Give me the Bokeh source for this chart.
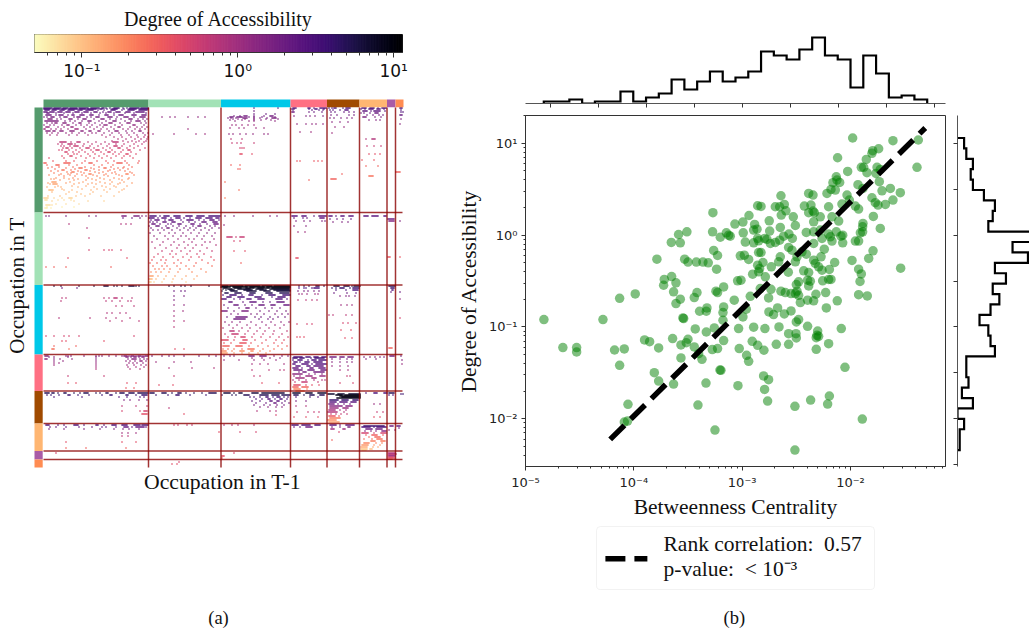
import numpy as np
from bokeh.plotting import figure
from bokeh.embed import file_html
from bokeh.resources import INLINE
from bokeh.layouts import row, column
from bokeh.models import (Range1d, LogColorMapper, FixedTicker, Label, ColumnDataSource,
                          BoxAnnotation)
from bokeh.palettes import Magma256

SERIF = "Liberation Serif"
SANS = "DejaVu Sans"

# ---------------- data: colour scale
cb_low, cb_high = 0.0497, 11.4
cb_ticks = [0.1, 1.0, 10.0]
cb_tick_labels = ["10⁻¹", "10⁰", "10¹"]
cb_minor = [0.06, 0.07, 0.08, 0.09, 0.2, 0.3, 0.4, 0.5, 0.6, 0.7, 0.8, 0.9,
            2.0, 3.0, 4.0, 5.0, 6.0, 7.0, 8.0, 9.0]

# ---------------- data: occupation groups
group_edges = [0, 105, 177.5, 247, 283.5, 316, 343.5, 352, 360]
group_colors = ["#559b6d", "#a2e2b6", "#00c8e8", "#ff7083", "#a04a00", "#ffb672", "#a95ba6", "#ff8c52"]
line_positions = [105, 177.5, 247, 283.5, 316, 343.5, 352]

# ---------------- data: transition matrix (row, value, columns)
heat_rows = [
 # --- band 1, own group
 (0,3.6,"0-8 10-17 19-24 26-33 35-44 47-55 58-60 62 66 70-75 79 83 86-95 97-104"),
 (1,3.2,"0-6 9-15 18-22 25-33 36-41 44-52 56-58 63 68-73 80 85-92 96-104"),
 (2,2.8,"1-5 8-12 16-20 24-30 34-38 42-49 54 60 67-71 78 84-90 95-103"),
 (4,2.2,"0-3 6-10 14-18 22-26 31-35 40-44 50-53 59 64-67 72-76 82-86 92-100"),
 (5,2.1,"3-5 12 20 29 38 47 56 62 70 81 90 102"),
 (7,1.9,"2-7 12 15-19 24 28-30 36-40 46-49 55 61-64 70 75-79 88-92 98-102"),
 (9,1.7,"0 3 7-10 16 20-23 30 33-36 43 47 52-55 64-68 73 80-84 90 96-101"),
 (11,1.5,"4-8 13 17 25-28 34 39-42 50 57-60 66 72 77 85-88 94 99 103"),
 (13,1.5,"1-14 21 26 31 38 44-47 55 62 69-72 81 87 92-96 101"),
 (15,1.3,"3 8 11-13 19-22 29 35-37 45 51 58 65-68 76 83-86 97 102"),
 (17,1.2,"0 6 10 18 23-25 32 37 43 48 56 60-63 71 78 89-91 100"),
 (19,1.1,"2-5 14 20 27-29 40 46 53 59 67 74-76 86 93 98 103"),
 (21,1.0,"0-1 7 12 17 24 31-34 42 50 57 63 70 79 84 91 96 101"),
 (23,1.3,"2-6 9-11 16-19 26-30 37-39 45-47 54-56 65 71-74 82 88 95-97"),
 (25,1.1,"3 8 14 22 28 35 41 48 52 60 68 75 83 90 99 104"),
 (27,0.9,"6 13 25 33 44 58 66 77 85 93 101"),
 (29,0.8,"62 70 78 87 94 100 104"),
 (31,0.8,"74 82 91 97 103"),
 (33,0.75,"68 79 88 95 102"),
 (34,0.7,"16-22 27 33-36 44 52 61 69-74 84 92 100"),
 (36,0.65,"14 18 24-28 31 40 48 57 65 72 80 90 98"),
 (38,0.6,"17 20 26 30-34 39 46 54 63 70-73 78 86 94"),
 (40,0.55,"19 22-24 28 36 42-45 50 59 66 74-76 83 90 101"),
 (42,0.5,"15 18 25 32 38 47 52-55 62 68 79 84-86 96"),
 (44,0.5,"21-23 29 35 41 49 57 64-66 71 77 87"),
 (46,0.45,"24 30 33 44 51 60 69 75 82-84 92"),
 (48,0.45,"18 26-28 37 46 55 63 72 80 86"),
 (50,0.42,"5 20 32 42 50 58 67 78 89"),
 (53,0.35,"9 22 30 41 53 62 70 81 95"),
 (55,0.3,"0-2 20-26 38 45-48 64 73-78 83 94"),
 (57,0.28,"3 12-15 25 33 50 58 69 85"),
 (59,0.27,"8 15 29 41 55 67 80 88"),
 (60,0.25,"4 22 35-38 47 60-62 74 79"),
 (61,0.25,"11 31 50 70 84"),
 (62,0.24,"18-20 27 41-43 55 66 76"),
 (63,0.23,"7 14 34 46 64 81"),
 (64,0.22,"23 28-30 37 51 59 71 86"),
 (65,0.22,"10 27 40 55 68 88"),
 (66,0.2,"17 24 33 45-47 62 72 82-84"),
 (67,0.2,"5 15 26 38 49 60 75 90"),
 (68,0.2,"20 31 42 53 64 78"),
 (70,0.18,"12 20 29 44 56 70 85"),
 (71,0.16,"7 10 25 34 48 60 75 84"),
 (72,0.17,"16 30 42 52 66 78"),
 (74,0.14,"8-12 26 39 56 68 80"),
 (75,0.15,"4 22 35 48 61 76 88"),
 (76,0.14,"6 9-13 30 44 52 66 74"),
 (78,0.13,"14 28 42 58 70 83"),
 (79,0.12,"3 11 17 34 50 62 72"),
 (81,0.12,"18 38 53 66 80"),
 (82,0.11,"5-9 20 28 47 60 78"),
 (84,0.11,"8 25 33 49 63 75"),
 (86,0.1,"22 37 46"),
 (88,0.1,"4 16 32 41 57 70"),
 (90,0.08,"0-4 10 18 25-28"),
 (92,0.07,"1-3 14 20 27"),
 (93,0.08,"8 30 44 60"),
 (96,0.07,"12 22 35"),
 (97,0.07,"2-6 8"),
 (99,0.06,"3 18 30"),
 (100,0.06,"1-3 7"),
 # --- band 1, other groups
 (9,1.2,"118 126 131 144 154 161"),
 (21,1.0,"144"),
 (26,1.0,"109 130 152 161"),
 (0,2.5,"210 234"),(3,2,"210"),(6,2,"210 222 231"),
 (8,1.8,"190 196 200-203 210 220 226-229"),
 (9,1.8,"186-189 193-198 205 210 218 231"),
 (10,1.6,"184 187 192 199-203 210 216 223 228-232"),
 (11,1.5,"189 194 201 210 222 234"),
 (12,1.3,"186 198 210 217 227"),(13,1.2,"191 205 210 231"),
 (17,1,"188 192 198 204 210"),(20,1,"186 195 200 212 220"),
 (26,1.2,"185 189 196 202 209 220 224"),
 (31,0.7,"187 198"),(35,0.6,"188 193 197 210"),(40,0.5,"196 198 200"),(46,0.4,"196-198 208"),
 (57,0.3,"187 196"),(61,0.3,"194 196"),(74,0.25,"181"),(82,0.25,"195"),(90,0.2,"181"),
 (0,3,"249-252 264-266 270 276-282"),(1,3,"248 250 265 271-273 280"),
 (2,2.5,"249 268 275 279"),(4,2,"248-250 265 270 278"),(8,1.5,"250 262 266 271 279"),
 (16,1.2,"253 262 268 272 279"),(24,1,"256 267"),(53,0.35,"253 256 270 274 278"),(72,0.3,"265"),
 (0,3,"285 288 290-292 299 302-306"),(2,2.6,"286 289 296 301-304"),(4,2.2,"287 291 300 305 310"),
 (7,1.8,"287 293 305 310"),(10,1.5,"286 290 297 303 308"),(14,1.3,"288 296 304"),(19,1.1,"291 300"),
 (25,1,"288"),(66,0.3,"298"),(71,0.3,"287-292"),
 (0,3,"318-322 326-330 334 338-342"),(1,2.8,"317 321 325-329 333-336 340"),
 (3,2.4,"319-323 327 330-336 341"),(5,2,"317 320 326 331-334"),(7,1.8,"323 329 335 339"),
 (9,1.6,"319-322 331 337"),(12,1.4,"325 332 336"),(31,0.8,"322 328-331"),(38,0.6,"323 330 337"),
 (46,0.4,"325 331 336"),(52,0.35,"318 330"),(58,0.3,"322 334"),(68,0.25,"325-329"),
 (64,0.3,"352-356"),
 (0,3.5,"356-358"),(2,3,"357"),(4,2.8,"357 359"),(7,2.2,"356-358"),(11,1.6,"357"),(16,1.3,"356"),
 # --- band 2
 (108,1.5,"2 5 22 45 52 78-82 90-95 98 102"),(110,2,"79 88 96"),(116,0.8,"25 77 82 87"),
 (120,0.8,"43"),(130,0.6,"45"),(142,0.5,"45 60 65 68 77"),(150,0.4,"24 83"),(159,0.3,"2 10 22 67"),
 (108,3,"106-112 116 120-125 130-136 142-148 153-160 165-176"),
 (110,2.6,"105-110 114 118-122 127 132-136 140 146 152-157 162-168 172-175"),
 (112,2.4,"107 111-115 121 125-129 137 143-149 155 160 166-170 175"),
 (114,2.2,"106 109 113 119-122 128-131 139 145 151 158-162 169-173"),
 (116,2,"108-111 116 124 127 134-137 147-150 156 163 170-174"),
 (118,1.9,"105 112-115 122 129 135 142 149 154-157 166 171"),
 (120,1.7,"107 118 123-125 133 140 146 152 161 168 175"),
 (122,1.5,"109 114 120 128 136 144 150 157 165"),
 (125,1.3,"106 116 125 131 139 147 155 163 171"),
 (128,1.2,"110 121 129 137 142 153 160 168"),
 (131,1.0,"113 124 134 145 150 158 170"),
 (134,0.9,"108 119 130 140 148 161 166"),
 (137,0.8,"116 127 135 144 152 158 172"),
 (140,0.7,"111 122 133 141 149 163"),
 (143,0.6,"118 128 137 146 156 168"),
 (146,0.5,"114 126 132 143 153 160"),
 (149,0.42,"110 119 129 139 147 155 167"),
 (152,0.36,"108 117 122 134 145 158 170"),
 (155,0.3,"106 113 121 130 137 152 164"),
 (158,0.26,"109 118 123 133 142 150 168"),
 (161,0.22,"111 115 120 126 136 145 157"),
 (164,0.18,"107 112 117 125 134 148 162"),
 (168,0.14,"106-109 114 122 131 142 153"),
 (171,0.11,"105-108 112 120 129 138 150"),
 (174,0.08,"105-107 110 118 128 142"),
 (108,1.5,"181 190 209 226 233"),(117,1.2,"180"),(129,0.6,"183-188 192 196-200"),(133,0.5,"190 196"),(155,0.3,"197"),
 (143,0.4,"190 201"),(108,2.5,"248-253 258-262 270 275-282"),(110,2.2,"250 259 263 276-280"),
 (113,1.5,"252 260 266 278 281"),(118,1.3,"250 262"),(124,1,"254 261"),(150,0.4,"252-254"),
 (108,2.5,"285-288 292 297-300 305-309"),(111,2,"286 293 299 307"),(114,1.5,"289 298 304"),
 (108,2.5,"320-324 328-334 340-342"),(111,2,"344-350"),(113,1.5,"345-350 356"),(149,0.35,"344-346 356"),
 # --- band 3
 (178,6,"10 17 35 50 60-64 70 73 78 85-90 92 95"),(180,2,"18 33"),
 (190,0.7,"18 22 60 65 70-73 78 88"),(193,0.7,"17 62 68 76 84 87"),(198,0.7,"72 78 90"),
 (205,0.8,"63 68 76 82"),(210,0.8,"15 46 62 72 86"),(213,0.7,"66 78 95"),(228,0.5,"2 10 20 25 35 90"),
 (233,0.4,"18 22 60"),(238,0.3,"10 32"),(241,0.25,"8-10 25"),
 (178,6,"125 130 137 141 147 165"),(183,2,"130 137 141"),(188,1.6,"130 140"),(192,1.5,"130"),
 (197,1.2,"130 140"),(203,1,"130 139"),(208,0.9,"130"),(213,0.8,"130 140"),(219,0.7,"130"),(241,0.4,"131 140"),
 (178,10,"178-184 186-199 201-216 218-228 230-246"),
 (179,10,"177-186 189-203 206-220 223-246"),
 (180,9,"180-183 190-197 202-210 214-225 228-246"),
 (181,8,"179 184-188 194-206 212-219 226-245"),
 (182,7,"182 186-190 200-208 216-222 230-246"),
 (183,6,"178 187-193 203-212 220-226 233-246"),
 (185,5,"181-184 191-197 206-211 222-228 236-245"),
 (187,3.5,"179 186-192 198 205-209 218 225-231 239-246"),
 (189,3,"183-187 194-200 211-217 228 234-241"),
 (191,2.6,"178-182 190 196 203-207 214-220 232-238 243"),
 (194,2.2,"185-188 199 206-212 219 226 233-240"),
 (197,2,"180 190-194 201 208 215-220 227-231 240-245"),
 (200,1.8,"184 195 202-205 212 221 228 236"),
 (203,1.6,"178-183 190 198-204 216 225 233 242"),
 (206,1.5,"187 194 207 213 220 231 238 244"),
 (209,1.9,"183 192-203 211 217 226 234 241"),
 (211,1.9,"190-201 215 224 229"),
 (214,1.2,"181 188 196 207 218 227 237 245"),
 (217,1.0,"185 193 203 212 222 231 240"),
 (220,0.8,"179 189 198 206 216 225 236"),
 (223,0.7,"186-190 195 204 213 221 230 243"),
 (226,0.6,"181 188-194 201 210 219 229 238"),
 (229,0.5,"184 191 197-201 208 217 226 235 244"),
 (232,0.42,"178-184 190 199-203 211 222 232 240"),
 (235,0.36,"180 187 196-202 207 218 230 238"),
 (238,0.3,"179-185 192-198 205 214 224 234 243"),
 (241,0.24,"179 184 190 198 204-210 219 230 238"),
 (243,0.18,"178-182 188 196-200 207-209 216 226"),
 (245,0.14,"178-183 190 198 205 214 222"),
 (178,5,"255 260 265 272-275 280"),(180,3,"255 260 262 268 270-275"),(183,1.6,"254 260 264 270 275"),
 (186,1,"255 258 263 271 274"),(192,0.7,"254 262 268 273"),(216,0.5,"253 263 268"),(229,0.4,"253 256 260"),
 (178,6,"290-295 300-305 308 310-316"),(180,4,"288 292 296-300 306 309-315"),(182,3,"292 302 309-314"),
 (185,2,"290 303 312"),(188,1.4,"296 302 305 311"),(197,1,"297 303 308"),(207,0.7,"285 289 302 308"),
 (215,0.5,"299 304 312"),(222,0.4,"297 307"),(230,0.4,"301 308"),
 (178,5,"345-351"),(180,4,"347-350"),(182,3,"348-349"),(184,2,"347 356"),(191,1.2,"356"),(210,0.5,"356"),(240,0.3,"345-348"),
 # --- band 4
 (248,1.5,"1-4 22 24 27 40 52 55 58 65 72 78 80-83 85 87-90 92 94-97 99 101-104"),
 (249,1.4,"5 10 24 52 82-84 87 90-92 95 98-100"),
 (251,1.3,"1-3 10 16 28 52 84 88-92 96 100 103"),(253,1.2,"10 19 52 82 86 91 96-98 102"),
 (255,1.1,"10 15 52 85 89 93 99"),(257,1,"10 52 83 90 97 102"),(259,0.9,"52 84 92 100"),
 (261,0.8,"52 86 96"),(268,0.6,"24 60"),(275,0.4,"24 32 83 92"),(280,0.35,"82 90"),
 (248,1.8,"108 118 125 130 140 155 165 172"),(254,1,"112 130 147"),(260,0.8,"125 148 170"),(268,0.6,"130"),(277,0.4,"115 129"),
 (248,1.6,"180 186 190 205-210 216-222 230 238 244"),(250,1.2,"208 218 226 236"),(252,1.1,"180 195 210 220 232"),
 (256,0.9,"208 216 224 240"),(262,0.7,"208 225 236 240"),(268,0.6,"210 216"),(275,0.4,"218 235"),
 (249,3,"250-258 262-266 270-274 278-282"),(250,3.4,"249-253 256-260 267 271-280"),
 (252,3,"249 254-258 264 268-272 275-282"),(254,2.8,"250-253 256 261-265 270-278"),
 (256,2.6,"249-251 258-264 268 272-282"),(258,2.4,"252-256 263-266 270-279"),
 (260,2.2,"249-254 258 266-269 275-281"),(262,2,"250-258 264-270 277-282"),
 (264,1.8,"255 259-262 270-280"),(266,1.3,"249-258 265 271 278"),(268,1.1,"250 256 262-268 276-281"),
 (270,1,"252-260 268-272"),(272,0.8,"249 255 262 270 278 281"),(274,0.6,"251 258-263 274"),
 (277,0.4,"250-256 262 268 275"),(279,0.3,"249-254 258-264"),(281,0.2,"250-256 263"),(283,0.16,"252-260"),
 (249,1.8,"286-292 296-300 304-309"),(251,1.5,"288 296 303 308"),(254,1.3,"288 296 303 308"),(258,1.1,"288 296 304"),
 (262,0.9,"296 304"),(268,0.6,"303 306"),(275,0.5,"296 309"),
 (249,1.6,"320 326 331 336 340"),(251,1.2,"322 332"),(248,1.8,"346-350 357"),(252,1.4,"358"),(256,1.1,"358"),
 # --- band 5
 (285,5,"1-5 8-10 14 20-22 30 36 40-44 52 56 62-64 72 76-80 85-90 94-104"),
 (287,4,"3 7 15 24-26 34 45 58 66-68 82-84 92 98-103"),
 (289,3,"10 38 75 83 96 100"),(292,1.5,"80 86 95 103"),(298,0.7,"78 92 103"),(303,0.5,"78 96 100-103"),(306,0.4,"98-103"),
 (285,5,"106-110 118-122 128 134-137 142 150 158 165-172"),(287,4,"112 124 132-135 146 162"),(300,0.7,"125"),(306,0.4,"140"),
 (285,6,"180-186 190 195-198 208-214 218-240"),(287,5,"178 188 192 200-205 216-224 228-235 238-246"),
 (289,3.4,"206 210 216 222-224 229 233-236 240 244"),(291,2.8,"212 218 224-226 231 236-238 243"),(293,2.4,"208 216 226-228 233-235 241"),
 (295,2,"212 222 230-232 238 245"),(297,1.7,"210 220 226 233 240"),(299,1.3,"216 224 232 238"),(303,0.8,"213 226 232"),(307,0.5,"232"),
 (285,7,"249-256 262-268 274-282"),(287,5,"250-254 260 266-270 276-280"),(289,3,"252 266 274"),(293,1.6,"252 262"),
 (298,0.8,"252 262"),(304,0.6,"253 264 270 275"),(309,0.4,"250 262 274"),
 (286,7,"284-290 294-300 305-316"),(287,9,"292-298 301-316"),(288,10,"296-316"),(289,10,"298-316"),(290,9,"293-316"),
 (292,4,"286-294 298-304 309-314"),(294,2.6,"286-292 296-303 307-312"),(296,1.8,"285-290 294 300 306"),
 (298,1.4,"286-298 302-308"),(300,1.1,"286-294 299-304"),(302,0.9,"285-291 296 302"),(304,0.8,"284-293 300"),
 (306,0.6,"287 292 297 303"),(308,0.35,"285-291 295"),(310,0.22,"286-296"),(312,0.18,"284-292"),(314,0.14,"285-295"),
 (285,3,"322 330-333 340-343"),(296,1.1,"330 336"),(304,0.6,"333 339"),(309,0.4,"330 336"),
 (285,5,"345-350"),(287,3,"345 349"),(286,4,"357 359"),
 # --- band 6
 (317,3,"2-5 14 20 30-34 40 52-54 60 68-72 78-83 90-96 98-104"),
 (319,2.2,"6 12 22 35 48 58 62 72 80-84 88 92-100 102"),
 (321,1.6,"5 20 40 56 70 79 85 95"),(325,1,"78 84 92"),(328,0.7,"78 84"),(334,0.4,"22 78 92"),(340,0.3,"22 42 82"),
 (317,0.6,"130 134 143 148"),(324,0.4,"175"),(317,0.8,"180 188 194 210"),(324,0.5,"196 212"),
 (317,3,"248-254 258-266 271-276"),(319,2,"250 256 262-268"),
 (317,2.5,"286-292 296 302-310"),(319,1.7,"288 296 304-306"),(321,1,"287-290 299-301"),(324,0.5,"295"),(332,0.3,"288"),
 (318,4,"320-340"),(319,3,"318-326 330 333-342"),(321,2,"322-328 332-338"),(323,1.4,"321 327 332 338-342"),
 (325,0.5,"318-324 330 337-342"),(327,0.32,"322 328-333 339"),(329,0.28,"325 331-336"),(331,0.26,"320 328 333-338"),
 (333,0.22,"327-331 337-341"),(335,0.2,"320-325 332 338"),(337,0.16,"318-324 330 336"),(339,0.13,"317-323 329 334"),
 (341,0.1,"317-323 326-328"),(342,0.08,"318-322"),
 (318,2,"346-349"),(322,1.2,"345 351"),(318,2.4,"353-356"),(320,1.6,"355"),
 # --- bands 7 and 8
 (345,0.7,"344-351"),(346,0.9,"345-352"),(347,0.6,"344-350"),(348,1.2,"345-351"),(349,0.5,"344-349"),
 (350,0.4,"345-351"),(351,0.3,"344-348"),(345,0.5,"12 190"),(348,0.4,"178-180"),(350,0.3,"178"),
 (354,0.5,"135"),(356,0.4,"128 133"),
]

# ---------------- data: histogram counts and ticks
top_counts = [1,1,2,0,1,1,6,1,3,5,12,7,11,16,11,13,16,26,24,22,27,33,24,22,8,24,15,3,4,2]
top_ticks = [-4.77,-4.337,-3.904,-3.470,-3.037,-2.604,-2.171,-1.738,-1.304]
right_counts = [3,4,7,6,7,12,17,16,14,36,25,32,17,22,16,19,15,10,14,15,17,4,4,5,2,7,0,3,1,1]
right_ticks = [1.0,0.5,0.0,-0.5,-1.0,-1.5,-2.0,-2.5]

# ---------------- data: scatter (log10 of each value)
log_bc = [
-3.270,-3.587,-3.510,-3.273,-3.654,-3.571,-3.202,-3.146,-3.125,-3.263,-3.227,-3.787,-3.531,-3.500,-3.423,-3.362,
-3.313,-3.236,-3.651,-3.719,-3.611,
-4.830,-4.285,-4.655,-4.528,-4.528,-4.178,-4.088,-4.131,-3.987,-4.131,-3.901,-3.854,-3.771,-3.811,-3.771,-4.054,
-4.088,-4.058,-3.633,-3.642,-3.565,-3.516,-3.500,-3.442,-3.565,-3.402,-3.371,-3.276,-3.227,-3.205,-3.334,-3.408,
-3.251,-3.433,-3.331,-3.257,-3.171,-3.725,-3.633,-3.571,-3.611,-3.417,-3.442,-3.242,-3.227,-3.393,-3.325,-3.331,
-3.171,-3.177,-3.547,-3.540,-3.171,
-1.980,-1.608,-1.374,-1.740,-1.795,-1.802,-2.119,-1.854,-1.386,-2.026,-1.900,-1.878,-1.848,-1.755,-1.725,-1.765,
-2.131,-2.125,-2.162,-2.100,-1.734,-1.931,-2.180,-2.140,-2.217,-2.386,-2.346,-1.632,-1.709,-1.540,-1.885,-2.032,
-2.642,-1.802,-2.079,-2.011,-1.771,-1.746,-1.678,-1.608,-2.857,-2.826,-2.694,-2.654,-2.611,-2.596,-2.639,-2.426,
-2.365,-2.346,-2.386,-2.334,-2.202,-1.955,-1.925,-2.279,-2.937,-2.528,-2.171,-1.789,-2.750,-2.993,-3.067,-2.885,
-2.509,-2.340,-2.109,-1.885,-1.888,-2.648,-1.888,-1.725,-2.894,-2.863,-2.990,-2.746,-3.110,-2.408,-2.340,-2.279,
-2.131,-2.202,-2.072,-2.088,-1.909,-2.617,-2.568,-2.537,-2.971,-2.894,-2.857,-2.793,-2.771,-2.740,-2.694,-2.654,
-2.848,-2.571,-2.540,-2.340,-2.263,-2.186,-2.171,-2.072,-1.955,-1.925,-2.242,-1.792,-3.017,-2.980,-2.940,-2.848,
-2.826,-2.272,-2.340,-2.408,-2.448,-2.494,-2.648,-2.663,-2.808,-2.509,-1.986,-1.832,-2.146,-2.325,-2.294,-2.263,
-2.857,-2.839,-2.848,-2.731,-2.903,-2.786,-2.574,-1.925,-1.900,-1.537,-2.195,-2.432,-2.386,-2.202,-2.180,-2.257,
-2.396,-2.371,-2.479,-2.500,-3.042,-3.011,-1.912,-2.833,
-2.734,-2.642,-2.602,-2.549,-2.494,-2.479,-2.509,-2.386,-2.319,-2.229,-1.925,-1.845,-2.925,-3.073,-2.756,-2.463,
-2.396,-2.340,-2.122,-2.962,-2.993,-3.177,-2.753,-2.710,-2.673,-2.611,-2.549,-2.479,-2.500,-2.223,-3.033,-2.894,
-2.790,-2.660,-2.396,-2.303,-2.085,-2.571,-2.503,-2.500,-2.309,-2.294,-2.316,-2.907,-2.857,-2.799,-2.685,-2.571,
-2.202,-2.316,-3.027,-2.959,-2.940,-2.051,-3.196,-2.802,-2.756,-3.039,-2.793,-2.195,-2.211,-2.368,-2.765,-2.513,
-1.891,-2.513]
log_da = [
0.244,0.007,0.036,0.036,-0.080,-0.084,-0.022,0.025,0.000,-0.167,-0.222,-0.262,-0.262,-0.294,-0.294,-0.294,
-0.302,-0.371,-0.451,-0.483,-0.520,
-0.920,-0.920,-1.225,-1.225,-1.273,-1.251,-1.240,-0.688,-0.640,-1.418,-1.142,-1.160,-1.229,-1.498,-1.589,-1.843,
-2.036,-2.025,-1.622,-1.127,-1.196,-1.171,-1.134,-1.218,-1.338,-1.291,-1.353,-1.247,-1.236,-1.469,-1.611,-1.851,
-2.123,-1.022,-1.055,-1.011,-1.149,-0.546,-0.618,-0.698,-0.746,-0.626,-0.680,-0.611,-0.626,-0.829,-0.793,-0.829,
-0.782,-0.844,-0.902,-0.909,-0.564,
1.058,1.029,1.036,0.941,0.920,0.891,0.843,0.825,0.738,0.694,0.738,0.738,0.680,0.738,0.716,0.672,
0.636,0.600,0.571,0.574,0.582,0.549,0.498,0.491,0.454,0.454,0.436,0.509,0.483,0.462,0.509,0.436,
0.429,0.407,0.338,0.382,0.353,0.327,0.334,0.382,0.320,0.313,0.309,0.309,0.334,0.265,0.218,0.316,
0.327,0.262,0.244,0.244,0.309,0.316,0.284,0.200,0.214,0.200,0.200,0.204,0.156,0.142,0.120,0.116,
0.105,0.145,0.153,0.127,0.091,0.084,0.036,0.073,0.055,0.065,0.025,0.044,-0.011,0.029,0.036,0.055,
0.036,0.011,0.000,-0.011,0.025,-0.011,0.011,-0.036,-0.076,-0.084,-0.036,-0.036,-0.047,-0.091,-0.080,-0.055,
-0.062,-0.134,-0.164,-0.091,-0.036,-0.018,-0.065,-0.084,-0.065,-0.065,-0.153,-0.171,-0.225,-0.218,-0.265,-0.189,
-0.189,-0.236,-0.273,-0.207,-0.182,-0.236,-0.236,-0.291,-0.298,-0.291,-0.276,-0.254,-0.298,-0.309,-0.345,-0.382,
-0.327,-0.364,-0.400,-0.345,-0.425,-0.454,-0.404,-0.371,-0.422,-0.360,-0.374,-0.389,-0.407,-0.483,-0.483,-0.498,
-0.491,-0.502,-0.509,-0.538,-0.498,-0.491,-0.505,-0.582,
-0.590,-0.611,-0.626,-0.637,-0.611,-0.655,-0.637,-0.553,-0.644,-0.626,-0.648,-0.662,-0.666,-0.709,-0.684,-0.735,
-0.709,-0.716,-0.716,-0.807,-0.891,-0.927,-0.836,-0.865,-0.793,-0.858,-0.825,-0.920,-0.945,-0.793,-1.018,-1.003,
-1.018,-1.000,-0.993,-1.044,-1.018,-1.073,-1.073,-1.120,-1.091,-1.102,-1.117,-1.156,-1.200,-1.254,-1.189,-1.189,
-1.182,-1.244,-1.236,-1.309,-1.375,-1.440,-1.473,-1.534,-1.574,-1.640,-1.680,-1.752,-1.840,-1.796,-1.807,-1.865,
-2.003,-2.341]
fit_x = [6.05e-5, 4.9e-2]
fit_y = [5.96e-3, 14.7]

x_ticks = [1e-5, 1e-4, 1e-3, 1e-2]
x_tick_labels = ["10⁻⁵", "10⁻⁴", "10⁻³", "10⁻²"]
y_ticks = [1e-2, 1e-1, 1.0, 10.0]
y_tick_labels = ["10⁻²", "10⁻¹", "10⁰", "10¹"]
multipliers = [2, 3, 4, 5, 6, 7, 8, 9]
x_minor = [m * d for d in [1e-5, 1e-4, 1e-3, 1e-2] for m in multipliers]
y_minor = [m * d for d in [1e-3, 1e-2, 1e-1, 1.0, 10.0] for m in multipliers]

legend_lines = ["Rank correlation:\u00a0\u00a00.57", "p-value:\u00a0\u00a0< 10⁻³"]

# ---------------- helpers
def blank(fig):
    fig.grid.visible = False
    fig.outline_line_color = None
    fig.background_fill_color = None
    fig.border_fill_color = None

def note(fig, text, x, y, size, angle=0.0):
    fig.add_layout(Label(x=x, y=y, text=text, angle=angle, text_font=SERIF, text_font_size=size,
                         text_color="#111111", text_align="center", text_baseline="middle"))

def expand(spec):
    out = []
    for tok in spec.split():
        if "-" in tok:
            a, b = tok.split("-")
            out.extend(range(int(a), int(b) + 1))
        else:
            out.append(int(tok))
    return out

# ---------------- colour bar
palette = list(Magma256)[::-1]
cb = figure(width=440, height=98, x_axis_type="log", x_range=Range1d(cb_low, cb_high), y_range=Range1d(0, 1),
            output_backend="svg", toolbar_location=None, min_border_left=34, min_border_right=38,
            min_border_top=32, min_border_bottom=46, title="Degree of Accessibility", frame_align=False)
blank(cb)
cb.title.align = "center"
cb.title.text_font = SERIF
cb.title.text_font_size = "20px"
cb.title.text_font_style = "normal"
cb.title.text_color = "#111111"
edges = np.geomspace(cb_low, cb_high, len(palette) + 1)
cb.quad(left=edges[:-1], right=edges[1:], bottom=0, top=1, fill_color=palette, line_color=palette, line_width=1)
cb.outline_line_color = "#333333"
cb.yaxis.visible = False
cb.xaxis.ticker = FixedTicker(ticks=cb_ticks, minor_ticks=cb_minor)
cb.xaxis.major_label_overrides = dict(zip(cb_ticks, cb_tick_labels))
cb.xaxis.major_label_text_font = SANS
cb.xaxis.major_label_text_font_size = "17px"
cb.xaxis.major_label_text_color = "#111111"
cb.xaxis.major_tick_in = 0
cb.xaxis.major_tick_out = 5
cb.xaxis.minor_tick_in = 0
cb.xaxis.minor_tick_out = 3
cb.xaxis.axis_line_color = "#333333"
cb.xaxis.major_tick_line_color = "#333333"
cb.xaxis.minor_tick_line_color = "#333333"
cb.xaxis.major_label_standoff = 3

# ---------------- heat map: the frame fills the figure, one unit is one matrix cell
hx, hy, hv = [], [], []
for r, v, spec in heat_rows:
    for c in expand(spec):
        hx.append(c + 0.5)
        hy.append(r + 0.5)
        hv.append(v)
mapper = LogColorMapper(palette=palette, low=cb_low, high=cb_high)
heat = figure(width=440, height=530, x_range=Range1d(-43, 397), y_range=Range1d(521, -9),
              output_backend="svg", toolbar_location=None, min_border_left=0, min_border_right=0,
              min_border_top=0, min_border_bottom=0, frame_align=False)
blank(heat)
heat.xaxis.visible = False
heat.yaxis.visible = False
heat.rect(x="x", y="y", width=1.3, height=1.3, source=ColumnDataSource(dict(x=hx, y=hy, v=hv)),
          fill_color={"field": "v", "transform": mapper}, line_color=None, fill_alpha=1.0)
for a, b, col in zip(group_edges[:-1], group_edges[1:], group_colors):
    heat.quad(left=a, right=b, top=-8, bottom=-0.3, fill_color=col, line_color=None)
    heat.quad(left=-9, right=-0.8, top=a, bottom=b, fill_color=col, line_color=None)
lp = line_positions
heat.segment(x0=lp, x1=lp, y0=[0] * len(lp), y1=[360] * len(lp), line_color="#8b0000", line_alpha=0.8, line_width=1.5)
heat.segment(x0=[0] * len(lp), x1=[359] * len(lp), y0=lp, y1=lp, line_color="#8b0000", line_alpha=0.8, line_width=1.5)
note(heat, "Occupation in T", -27, 178, "21px", angle=np.pi / 2)
note(heat, "Occupation in T-1", 179, 374, "21.7px")
note(heat, "(a)", 175, 510.5, "18.5px")

# ---------------- top histogram
bins_top = np.linspace(-4.830, -1.374, len(top_counts) + 1)
tx = np.concatenate([[bins_top[0]], np.repeat(bins_top, 2), [bins_top[-1]]])
ty = np.concatenate([[0, 0], np.repeat(top_counts, 2), [0, 0]])
top = figure(width=509, height=113, x_range=Range1d(-4.995, -1.209), y_range=Range1d(0, 39),
             output_backend="svg", toolbar_location=None, min_border_left=85, min_border_right=4,
             min_border_top=25, min_border_bottom=10, frame_align=False)
blank(top)
top.yaxis.visible = False
top.line(tx, ty, line_color="black", line_width=2.2, line_join="miter")
top.xaxis.ticker = FixedTicker(ticks=top_ticks, minor_ticks=[])
top.xaxis.major_label_overrides = {t: "" for t in top_ticks}
top.xaxis.major_label_standoff = 0
top.xaxis.major_tick_in = 0
top.xaxis.major_tick_out = 4
top.xaxis.axis_line_color = "#555555"
top.xaxis.major_tick_line_color = "#333333"

# ---------------- scatter
sc = figure(width=509, height=409, x_axis_type="log", y_axis_type="log",
            x_range=Range1d(1e-5, 10 ** -1.123), y_range=Range1d(10 ** -2.52, 10 ** 1.303),
            output_backend="svg", toolbar_location=None, min_border_left=85, min_border_right=4,
            min_border_top=2, min_border_bottom=56, frame_align=False)
sc.grid.visible = False
sc.outline_line_color = "#333333"
sc.background_fill_color = None
sc.border_fill_color = None
sc.scatter(10.0 ** np.array(log_bc), 10.0 ** np.array(log_da), size=9.5, color="green", alpha=0.5, line_width=0)
sc.line(fit_x, fit_y, line_color="black", line_width=5.5, line_dash="20 9")
for ax, ticks, labels, minor, text in [(sc.xaxis, x_ticks, x_tick_labels, x_minor, "Betweenness Centrality"),
                                       (sc.yaxis, y_ticks, y_tick_labels, y_minor, "Degree of Accessibility")]:
    ax.ticker = FixedTicker(ticks=ticks, minor_ticks=minor)
    ax.major_label_overrides = dict(zip(ticks, labels))
    ax.major_label_text_font = SANS
    ax.major_label_text_font_size = "13px"
    ax.major_label_text_color = "#222222"
    ax.major_tick_in = 0
    ax.major_tick_out = 4
    ax.minor_tick_in = 0
    ax.minor_tick_out = 2
    ax.axis_line_color = "#333333"
    ax.major_tick_line_color = "#333333"
    ax.minor_tick_line_color = "#333333"
    ax.axis_label = text
    ax.axis_label_text_font = SERIF
    ax.axis_label_text_font_size = "21.5px"
    ax.axis_label_text_font_style = "normal"
    ax.axis_label_text_color = "#111111"
    ax.axis_label_standoff = 5
sc.xaxis.axis_label_standoff = 2
sc.xaxis.major_label_standoff = 4
sc.yaxis.major_label_standoff = 4

# ---------------- right histogram
bins_right = np.linspace(1.058, -2.341, len(right_counts) + 1)
ry = np.concatenate([[bins_right[0]], np.repeat(bins_right, 2), [bins_right[-1]]])
rx = np.concatenate([[0, 0], np.repeat(right_counts, 2), [0, 0]])
rh = figure(width=80, height=409, x_range=Range1d(0, 32.7), y_range=Range1d(-2.52, 1.303),
            output_backend="svg", toolbar_location=None, min_border_left=8, min_border_right=0,
            min_border_top=2, min_border_bottom=56, frame_align=False)
blank(rh)
rh.xaxis.visible = False
rh.line(rx, ry, line_color="black", line_width=2.2, line_join="miter")
rh.yaxis.ticker = FixedTicker(ticks=right_ticks, minor_ticks=[])
rh.yaxis.major_label_overrides = {t: "" for t in right_ticks}
rh.yaxis.major_label_standoff = 0
rh.yaxis.major_tick_in = 0
rh.yaxis.major_tick_out = 4
rh.yaxis.axis_line_color = "#555555"
rh.yaxis.major_tick_line_color = "#333333"

# ---------------- legend: the frame fills the figure, the box runs from 0 to 1 both ways
lg = figure(width=509, height=106, x_range=Range1d(-0.5612, 1.2698), y_range=Range1d(-0.619, 1.0635),
            output_backend="svg", toolbar_location=None, min_border_left=0, min_border_right=0,
            min_border_top=0, min_border_bottom=0, frame_align=False)
blank(lg)
lg.xaxis.visible = False
lg.yaxis.visible = False
lg.add_layout(BoxAnnotation(left=0, right=1, bottom=0, top=1, fill_alpha=0, line_color="#d4d4d4",
                            line_width=1, border_radius=4))
lg.line([0.032, 0.183], [0.49, 0.49], line_color="black", line_width=5.5, line_dash="20 9")
for txt, y in zip(legend_lines, [0.73, 0.33]):
    lg.add_layout(Label(x=0.241, y=y, text=txt, text_font=SERIF, text_font_size="21.5px",
                        text_color="#111111", text_align="left", text_baseline="middle"))
note(lg, "(b)", 0.496, -0.45, "18.5px")

layout = row(column(cb, heat), column(top, row(sc, rh), lg))
open("out.html", "w").write(file_html(layout, INLINE))
